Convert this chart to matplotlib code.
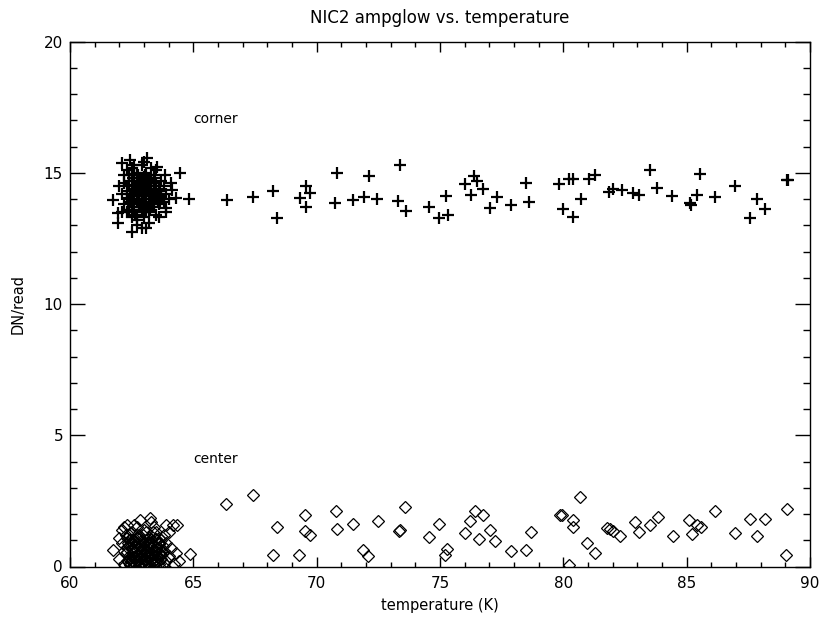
import matplotlib
matplotlib.use('Agg')
import matplotlib.pyplot as plt
from matplotlib.ticker import MultipleLocator

# corner amplifier glow (plus markers)
corner_t = [
    62.1, 62.2, 62.2, 62.3, 62.3, 62.4, 62.4, 62.5, 62.5, 62.5, 62.6, 62.6, 62.6, 62.7, 62.7, 62.7,
    62.8, 62.8, 62.8, 62.9, 62.9, 62.9, 63.0, 63.0, 63.0, 63.1, 63.1, 63.1, 63.2, 63.2, 63.2, 63.3,
    63.3, 63.3, 63.4, 63.4, 63.4, 63.5, 63.5, 63.5, 63.6, 63.6, 63.7, 63.7, 63.8, 63.8, 63.9, 64.0,
    62.3, 62.4, 62.6, 62.9, 63.0, 63.2, 63.5, 62.2, 62.0, 62.1, 62.7, 63.6, 64.1, 63.9, 62.5, 62.8,
    63.1, 63.4, 62.6, 63.3, 62.9, 63.0,
    62.35, 62.45, 62.55, 62.65, 62.75, 62.85, 62.95, 63.05, 63.15, 63.25, 63.35, 63.45, 63.55, 63.65,
    62.35, 62.45, 62.55, 62.65, 62.75, 62.85, 62.95, 63.05, 63.15, 63.25, 63.35, 63.45, 63.55, 63.65,
    62.4, 62.6, 62.8, 63.0, 63.2, 63.4, 63.6, 62.5, 62.7, 62.9, 63.1, 63.3,
    62.3, 62.5, 62.7, 62.9, 63.1, 63.3, 63.5, 63.7, 62.4, 62.6, 62.8, 63.0, 63.2, 63.4, 63.6, 62.5,
    62.7, 62.9, 63.1, 63.3,
    61.74, 61.95, 62.51, 63.08, 63.12, 62.43, 62.11, 64.46, 64.82, 64.30, 63.89, 64.13, 63.85, 63.53,
    61.95, 62.72,
    66.36, 67.42, 68.23, 68.39, 69.57, 69.73, 69.32, 69.57, 70.82, 70.74, 71.47, 71.92, 72.12, 72.44,
    73.38, 73.30, 73.62, 74.55, 74.96, 75.32, 75.24, 76.01, 76.38, 76.50, 76.74, 76.25, 77.31, 77.02,
    77.88, 78.48, 78.61, 79.82, 80.23, 80.39, 79.98, 80.39, 80.71, 81.04, 81.28, 81.85, 82.01, 82.38,
    82.82, 83.06, 83.51, 83.79, 84.40, 85.13, 85.17, 85.42, 85.54, 86.15, 86.96, 87.56, 87.85, 88.17,
    89.06, 89.10,
]
corner_dn = [
    14.2, 13.8, 14.6, 15.1, 13.5, 14.0, 14.9, 13.3, 14.4, 15.2, 13.7, 14.1, 14.7, 13.4, 14.3, 15.0,
    13.9, 14.5, 14.8, 13.6, 14.2, 15.3, 13.3, 14.0, 14.6, 13.8, 14.4, 15.0, 13.5, 14.1, 14.8, 13.9,
    14.5, 15.2, 13.7, 14.3, 14.9, 13.4, 14.0, 14.6, 13.8, 14.4, 14.1, 14.7, 13.9, 14.5, 14.2, 14.0,
    14.3, 13.6, 15.3, 12.9, 15.4, 13.1, 15.1, 14.9, 14.5, 13.5, 13.0, 13.3, 14.6, 13.5, 13.9, 14.1,
    14.2, 14.0, 14.9, 14.7, 14.0, 13.7,
    13.6, 14.2, 14.8, 13.4, 14.0, 14.6, 13.5, 14.1, 14.7, 13.6, 14.2, 14.8, 13.9, 14.3,
    14.5, 13.9, 13.6, 14.4, 14.9, 13.8, 14.4, 14.9, 13.7, 14.4, 13.8, 14.5, 14.2, 13.9,
    14.7, 14.2, 13.7, 14.3, 14.6, 14.6, 14.0, 14.1, 14.6, 14.8, 13.6, 14.0,
    14.05, 13.85, 14.25, 14.45, 13.65, 14.75, 14.35, 14.05, 14.55, 13.95, 14.35, 14.85, 13.75, 14.15,
    13.95, 14.95, 14.45, 13.75, 14.65, 14.25,
    13.96, 13.09, 12.74, 12.90, 15.56, 15.49, 15.37, 14.99, 14.00, 14.04, 13.66, 14.34, 14.91, 15.22,
    13.47, 13.20,
    13.96, 14.08, 14.30, 13.28, 14.50, 14.23, 14.04, 13.70, 14.99, 13.85, 13.96, 14.08, 14.88, 14.00,
    15.30, 13.92, 13.54, 13.70, 13.28, 13.39, 14.12, 14.57, 14.88, 14.69, 14.38, 14.15, 14.08, 13.66,
    13.77, 14.61, 13.89, 14.57, 14.76, 14.76, 13.62, 13.32, 14.00, 14.76, 14.92, 14.27, 14.38, 14.34,
    14.23, 14.15, 15.11, 14.42, 14.12, 13.85, 13.77, 14.15, 14.95, 14.08, 14.50, 13.28, 14.00, 13.62,
    14.72, 14.72,
]

# center amplifier glow (diamond markers)
center_t = [
    62.0, 62.1, 62.1, 62.2, 62.2, 62.3, 62.3, 62.4, 62.4, 62.5, 62.5, 62.6, 62.6, 62.7, 62.7, 62.8,
    62.8, 62.9, 62.9, 63.0, 63.0, 63.1, 63.1, 63.2, 63.2, 63.3, 63.3, 63.4, 63.4, 63.5, 63.5, 63.6,
    63.6, 63.7, 63.7, 63.8, 63.8, 63.9, 63.9, 64.0, 64.1, 64.2, 64.3, 62.3, 62.5, 62.7, 62.9, 63.1,
    63.3, 63.5, 62.4, 62.6, 62.8, 63.0, 63.2, 63.4, 63.6, 62.2, 62.0, 64.0, 63.9, 64.4, 63.8,
    62.25, 62.35, 62.45, 62.55, 62.65, 62.75, 62.85, 62.95, 63.05, 63.15, 63.25, 63.35, 63.45, 63.55,
    63.65, 63.75, 62.25, 62.35, 62.45, 62.55, 62.65, 62.75, 62.85, 62.95, 63.05, 63.15, 63.25, 63.35,
    63.45, 63.55, 63.65, 63.75, 62.4, 62.6, 62.8, 63.0, 63.2, 63.4, 63.6, 63.8, 62.5, 62.7, 62.9,
    63.1, 63.3, 63.5,
    62.3, 62.5, 62.7, 62.9, 63.1, 63.3, 63.5, 63.7, 62.4, 62.6, 62.8, 63.0, 63.2, 63.4, 63.6, 62.3,
    62.5, 62.7, 62.9, 63.1, 63.3, 63.5, 63.7, 62.45, 62.65, 62.85, 63.05, 63.25, 63.45, 63.65,
    61.74, 64.86, 64.18, 64.34, 63.24, 62.84,
    66.32, 67.42, 68.39, 68.23, 69.28, 69.53, 69.53, 69.73, 70.78, 70.82, 71.47, 71.88, 72.08, 72.48,
    73.34, 73.38, 73.58, 74.55, 74.96, 75.28, 75.20, 76.01, 76.21, 76.42, 76.74, 76.58, 77.02, 77.23,
    77.88, 78.48, 78.67, 79.86, 79.94, 80.39, 80.39, 80.67, 80.96, 81.28, 80.23, 81.77, 81.89, 82.01,
    82.29, 82.90, 83.06, 83.51, 83.83, 84.44, 85.09, 85.21, 85.42, 85.58, 86.15, 86.96, 87.56, 87.85,
    88.17, 89.06, 89.02,
]
center_dn = [
    0.3, 0.9, 1.4, 0.1, 0.6, 1.1, 1.6, 0.4, 0.8, 0.0, 1.3, 0.5, 1.0, 0.2, 1.5, 0.7,
    1.2, 0.1, 0.4, 0.9, 1.4, 0.3, 0.6, 1.1, 0.0, 0.5, 1.7, 0.8, 0.2, 1.3, 0.4, 0.7,
    0.1, 1.0, 0.3, 0.6, 1.2, 0.2, 0.9, 0.4, 0.7, 0.1, 0.5, 0.2, 0.7, 0.9, 1.0, 1.3,
    0.9, 0.6, 1.2, 1.6, 0.3, 0.1, 0.8, 1.5, 1.1, 1.5, 1.1, 1.3, 1.6, 0.2, 0.0,
    0.5, 0.2, 1.0, 0.35, 0.75, 0.45, 0.15, 0.65, 0.25, 0.85, 0.4, 0.2, 0.55, 0.9,
    0.3, 0.8, 1.2, 0.9, 0.15, 1.0, 0.1, 1.1, 0.55, 1.2, 0.5, 0.15, 0.75, 1.3,
    1.05, 0.2, 0.45, 0.5, 0.3, 0.6, 0.05, 0.05, 0.45, 0.35, 0.9, 0.15, 0.65, 1.1,
    0.8, 1.0, 0.7, 0.3,
    0.55, 0.25, 0.4, 0.7, 0.05, 0.95, 0.2, 0.6, 1.0, 0.15, 0.5, 0.25, 0.95, 0.1, 0.85, 0.75,
    0.9, 1.2, 0.55, 0.8, 0.25, 1.05, 0.45, 0.05, 0.3, 0.6, 0.45, 0.35, 0.6, 0.5,
    0.63, 0.48, 1.58, 1.58, 1.85, 1.77,
    2.38, 2.72, 1.51, 0.44, 0.44, 1.96, 1.35, 1.20, 2.11, 1.43, 1.62, 0.63, 0.40, 1.73,
    1.35, 1.38, 2.27, 1.12, 1.62, 0.67, 0.44, 1.28, 1.73, 2.11, 1.96, 1.05, 1.39, 0.97,
    0.59, 0.63, 1.30, 1.96, 1.96, 1.77, 1.51, 2.65, 0.90, 0.51, 0.06, 1.47, 1.43, 1.35,
    1.16, 1.70, 1.31, 1.58, 1.89, 1.16, 1.77, 1.24, 1.58, 1.51, 2.11, 1.28, 1.81, 1.16,
    1.81, 2.19, 0.44,
]

fig = plt.figure(figsize=(8.22, 6.21), dpi=100)
ax = fig.add_axes([70 / 822, 54.5 / 621, 740 / 822, 525 / 621])

ax.plot(corner_t, corner_dn, linestyle='none', marker='+', markersize=9,
        markeredgewidth=1.6, color='black')
ax.plot(center_t, center_dn, linestyle='none', marker='D', markersize=6.2,
        markeredgewidth=0.9, markerfacecolor='none', markeredgecolor='black')

ax.text(65.0, 16.9, 'corner', fontsize=10)
ax.text(65.0, 3.95, 'center', fontsize=10)

ax.set_xlim(60, 90)
ax.set_ylim(0, 20)
ax.xaxis.set_major_locator(MultipleLocator(5))
ax.xaxis.set_minor_locator(MultipleLocator(1))
ax.yaxis.set_major_locator(MultipleLocator(5))
ax.yaxis.set_minor_locator(MultipleLocator(1))
ax.tick_params(which='both', direction='in', top=True, right=True, labelsize=11, width=1)
ax.tick_params(axis='x', which='major', length=7.5, pad=7)
ax.tick_params(axis='x', which='minor', length=3.6)
ax.tick_params(axis='y', which='major', length=10.5, pad=5)
ax.tick_params(axis='y', which='minor', length=5)
for s in ax.spines.values():
    s.set_linewidth(1)

ax.set_title('NIC2 ampglow vs. temperature', fontsize=12, pad=13)
ax.set_xlabel('temperature (K)', fontsize=10.5, labelpad=5)
ax.set_ylabel('DN/read', fontsize=10.5, labelpad=13)

fig.savefig('out.png', dpi=100)
